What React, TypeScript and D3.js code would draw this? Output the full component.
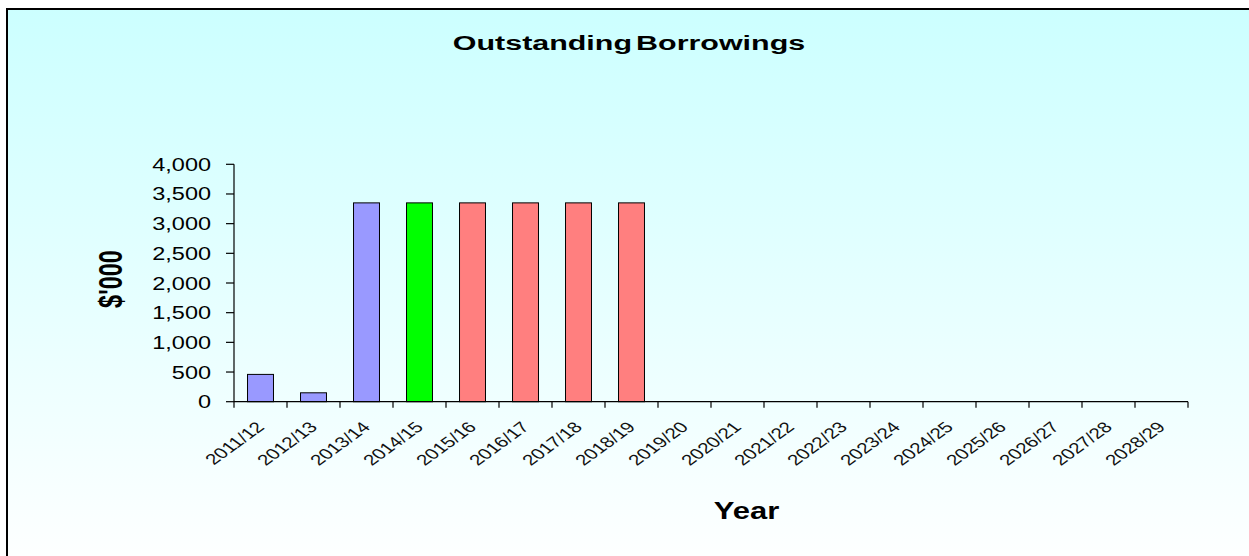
import React from "react";
import * as d3 from "d3";

const categories = [
  "2011/12", "2012/13", "2013/14", "2014/15", "2015/16", "2016/17",
  "2017/18", "2018/19", "2019/20", "2020/21", "2021/22", "2022/23",
  "2023/24", "2024/25", "2025/26", "2026/27", "2027/28", "2028/29",
];
const values = [460, 150, 3350, 3350, 3350, 3350, 3350, 3350, 0, 0, 0, 0, 0, 0, 0, 0, 0, 0];
const barColors = [
  "#9999FF", "#9999FF", "#9999FF", "#00FF00", "#FF7F7F", "#FF7F7F",
  "#FF7F7F", "#FF7F7F", "#FF7F7F", "#FF7F7F", "#FF7F7F", "#FF7F7F",
  "#FF7F7F", "#FF7F7F", "#FF7F7F", "#FF7F7F", "#FF7F7F", "#FF7F7F",
];
const yTicks = [0, 500, 1000, 1500, 2000, 2500, 3000, 3500, 4000];
const title = "Outstanding Borrowings";
const xTitle = "Year";
const yTitle = "$'000";

const W = 1249;
const H = 556;
const left = 234;
const right = 1188;
const top = 164.3;
const bottom = 401.7;
const FONT = "'Liberation Sans', Arial, Helvetica, sans-serif";

export default function App() {
  const x = d3.scaleBand<string>().domain(categories).range([left, right]).padding(0);
  const y = d3.scaleLinear().domain([0, 4000]).range([bottom, top]);
  const fmt = d3.format(",");
  const barW = x.bandwidth() * 0.49;
  const boundaries = categories.map((c) => x(c) as number).concat([right]);

  return (
    <svg
      width={W}
      height={H}
      style={{ position: "fixed", left: 0, top: 0, display: "block" }}
    >
      <defs>
        <linearGradient id="bg" x1="0" y1="0" x2="0" y2="1">
          <stop offset="0" stopColor="#CCFFFF" />
          <stop offset="1" stopColor="#FFFFFF" />
        </linearGradient>
      </defs>
      <rect x={0} y={0} width={W} height={H} fill="#FFFFFF" />
      <rect x={7} y={9} width={W + 20} height={H + 10} fill="url(#bg)" stroke="#000" strokeWidth={2} />

      {/* title */}
      <text
        transform={`translate(629,50) scale(1.45,1)`}
        textAnchor="middle"
        fontFamily={FONT}
        fontWeight="bold"
        fontSize={21}
        wordSpacing={-3}
        fill="#000"
      >
        {title}
      </text>

      {/* bars */}
      {categories.map((c, i) =>
        values[i] > 0 ? (
          <rect
            key={c}
            x={(x(c) as number) + x.bandwidth() / 2 - barW / 2}
            y={y(values[i])}
            width={barW}
            height={bottom - y(values[i])}
            fill={barColors[i]}
            stroke="#000"
            strokeWidth={1}
          />
        ) : null
      )}

      {/* y axis */}
      <line x1={left} x2={left} y1={top} y2={bottom} stroke="#000" strokeWidth={1.2} />
      {yTicks.map((t) => (
        <g key={t}>
          <line x1={left - 8} x2={left} y1={y(t)} y2={y(t)} stroke="#000" strokeWidth={1.2} />
          <text
            transform={`translate(211,${y(t) + 6.5}) scale(1.27,1)`}
            textAnchor="end"
            fontFamily={FONT}
            fontSize={18.5}
            fill="#000"
          >
            {fmt(t)}
          </text>
        </g>
      ))}

      {/* x axis */}
      <line x1={left} x2={right} y1={bottom} y2={bottom} stroke="#000" strokeWidth={1.2} />
      {boundaries.map((bx, i) => (
        <line key={i} x1={bx} x2={bx} y1={bottom} y2={bottom + 6} stroke="#000" strokeWidth={1.2} />
      ))}
      {categories.map((c) => (
        <text
          key={c}
          transform={`translate(${(x(c) as number) + x.bandwidth() / 2 + 5},428) scale(1.38,1) rotate(-45)`}
          textAnchor="end"
          fontFamily={FONT}
          fontSize={15}
          fill="#111"
        >
          {c}
        </text>
      ))}

      {/* axis titles */}
      <text
        transform={`translate(746.5,519) scale(1.29,1)`}
        textAnchor="middle"
        fontFamily={FONT}
        fontWeight="bold"
        fontSize={24}
        fill="#000"
      >
        {xTitle}
      </text>
      <text
        transform={`translate(121.5,279) scale(1.43,1) rotate(-90)`}
        textAnchor="middle"
        fontFamily={FONT}
        fontWeight="bold"
        fontSize={23.5}
        fill="#000"
      >
        {yTitle}
      </text>
    </svg>
  );
}
